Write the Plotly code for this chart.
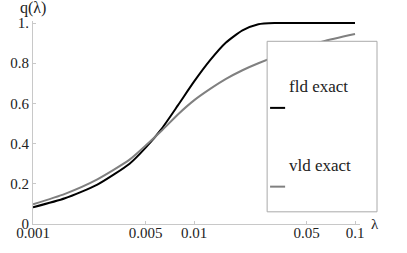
import plotly.graph_objects as go

# ---- data ----
series_names = ["fld exact", "vld exact"]

lam_fld = [0.001, 0.00158, 0.00251, 0.00398, 0.00501, 0.00631, 0.00794, 0.01, 0.0126, 0.0158, 0.02, 0.0251, 0.0316, 0.05, 0.1]
q_fld = [0.083, 0.128, 0.196, 0.300, 0.380, 0.475, 0.590, 0.708, 0.815, 0.903, 0.963, 0.994, 1.0, 1.0, 1.0]

lam_vld = [0.001, 0.00158, 0.00251, 0.00398, 0.00501, 0.00631, 0.00794, 0.01, 0.0126, 0.0158, 0.02, 0.0251, 0.0398, 0.0631, 0.1]
q_vld = [0.098, 0.150, 0.222, 0.320, 0.390, 0.465, 0.545, 0.615, 0.672, 0.722, 0.765, 0.800, 0.860, 0.908, 0.945]

x_tickvals = [0.001, 0.005, 0.01, 0.05, 0.1]
x_ticktext = ["0.001", "0.005", "0.01", "0.05", "0.1"]
y_tickvals = [0, 0.2, 0.4, 0.6, 0.8, 1.0]
y_ticktext = ["0", "0.2", "0.4", "0.6", "0.8", "1."]

colors = ["#000000", "#808080"]
FONT = "Liberation Serif"

fig = go.Figure()
fig.add_trace(go.Scatter(x=lam_fld, y=q_fld, mode="lines", name=series_names[0],
                         line=dict(color=colors[0], width=2, shape="spline", smoothing=0.6),
                         showlegend=False))
fig.add_trace(go.Scatter(x=lam_vld, y=q_vld, mode="lines", name=series_names[1],
                         line=dict(color=colors[1], width=2, shape="spline", smoothing=0.6),
                         showlegend=False))

axis_common = dict(showline=True, linecolor="#c8c8c8", linewidth=1, ticks="inside",
                   ticklen=3, tickcolor="#c8c8c8", showgrid=False, zeroline=False,
                   automargin=False,
                   tickfont=dict(family=FONT, size=15, color="#222222"))

fig.update_xaxes(type="log", range=[-3, -0.969], tickvals=x_tickvals, ticktext=x_ticktext,
                 ticklabelstandoff=-5, **axis_common)
fig.update_yaxes(range=[0, 1.01], tickvals=y_tickvals, ticktext=y_ticktext, **axis_common)

# custom legend (text above, line sample below)
box = dict(x0=0.716, x1=1.052, y0=0.06, y1=0.90)
fig.add_shape(type="rect", xref="paper", yref="paper", layer="above",
              line=dict(color="#aaaaaa", width=1), fillcolor="white", **box)
legend_text_y = [0.677, 0.289]
legend_line_y = [0.572, 0.184]
for name, col, ty, ly in zip(series_names, colors, legend_text_y, legend_line_y):
    fig.add_annotation(x=0.777, y=ty, xref="paper", yref="paper", text=name,
                       showarrow=False, xanchor="left", yanchor="middle",
                       font=dict(family=FONT, size=17, color="#222222"))
    fig.add_shape(type="line", xref="paper", yref="paper", layer="above",
                  x0=0.725, x1=0.771, y0=ly, y1=ly, line=dict(color=col, width=2))

fig.add_annotation(x=0.0, y=1.065, xref="paper", yref="paper", text="q(λ)",
                   showarrow=False, xanchor="center", yanchor="middle",
                   font=dict(family=FONT, size=16, color="#222222"))
fig.add_annotation(x=1.046, y=0.0, xref="paper", yref="paper", text="λ",
                   showarrow=False, xanchor="center", yanchor="middle",
                   font=dict(family=FONT, size=15, color="#222222"))

fig.update_layout(width=407, height=253, margin=dict(l=33, r=47, t=21, b=29),
                  paper_bgcolor="white", plot_bgcolor="white",
                  font=dict(family=FONT, color="#222222"))

fig.write_html("out.html", config={"displayModeBar": False},
               post_script="document.body.style.margin='0px';")
